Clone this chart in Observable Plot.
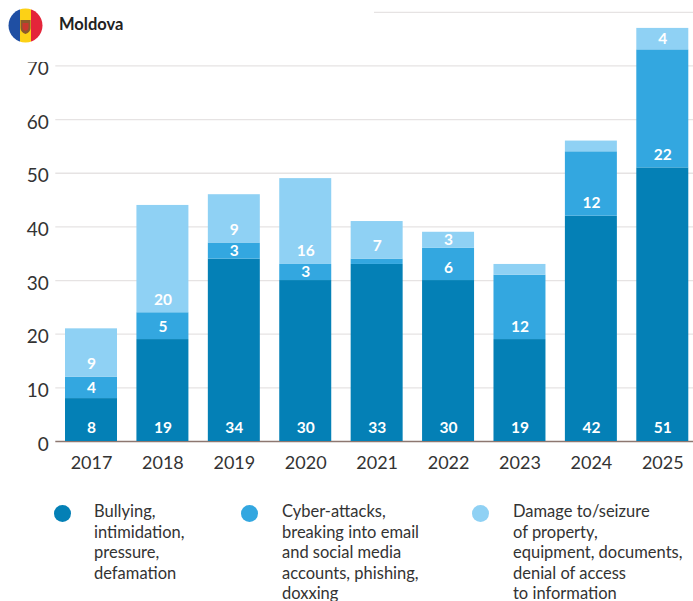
<!DOCTYPE html>
<html><head><meta charset="utf-8">
<script src="https://cdn.jsdelivr.net/npm/d3@7"></script>
<script src="https://cdn.jsdelivr.net/npm/@observablehq/plot@0.6"></script>
<style>
html,body{margin:0;padding:0;background:#fff;overflow:hidden}
#wrap{position:relative;width:693px;height:601px;font-family:Lato,sans-serif;color:#2b2b2b}
#chart{position:absolute;left:0;top:0}
#chart svg{overflow:visible}
#head{position:absolute;left:0;top:0;width:374px;height:62px;background:#fff}
#flag{position:absolute;left:8px;top:8px}
#title{position:absolute;left:59px;top:14px;font-size:16.5px;font-weight:700;line-height:20px;color:#222}
.dot{position:absolute;width:17px;height:17px;border-radius:50%;top:505px}
.leg{position:absolute;top:501px;font-size:16.5px;line-height:20.6px;white-space:pre;color:#333}
</style></head><body>
<div id="wrap"><div id="chart"></div><div id="head"></div>
<svg id="flag" width="35" height="35" viewBox="0 0 35 35"><defs><clipPath id="c"><circle cx="17.5" cy="17.5" r="17"/></clipPath></defs>
<g clip-path="url(#c)"><rect width="12" height="35" fill="#1f4fa3"/><rect x="12" width="11" height="35" fill="#fcd116"/><rect x="23" width="12" height="35" fill="#e4253a"/>
<path d="M12.5 12h10v8q0 4-5 6q-5-2-5-6z" fill="#8a5a2b"/><path d="M14.5 15h6v5q0 2-3 3q-3-1-3-3z" fill="#c8382e"/></g></svg>
<div id="title"></div><div id="legend"></div></div>
<script>
const years = ["2017","2018","2019","2020","2021","2022","2023","2024","2025"];
const bullying = [8,19,34,30,33,30,19,42,51];
const cyber = [4,5,3,3,1,6,12,12,22];
const damage = [9,20,9,16,7,3,2,2,4];
const seriesNames = ["Bullying, intimidation, pressure, defamation","Cyber-attacks, breaking into email and social media accounts, phishing, doxxing","Damage to/seizure of property, equipment, documents, denial of access to information"];
const legendLines = [
 "Bullying,\nintimidation,\npressure,\ndefamation",
 "Cyber-attacks,\nbreaking into email\nand social media\naccounts, phishing,\ndoxxing",
 "Damage to/seizure\nof property,\nequipment, documents,\ndenial of access\nto information"];
const colors = ["#0480b6","#33a7e0","#8fd1f4"];
const gridValues = [10,20,30,40,50,60,70,80];
const yTicks = [0,10,20,30,40,50,60,70];
const unlabelled = new Set(["2021|1","2023|2","2024|2"]);

document.getElementById("title").textContent = "Moldova";
const rows = [];
[bullying,cyber,damage].forEach((vals,s)=>vals.forEach((v,i)=>rows.push({year:years[i],series:seriesNames[s],order:s,value:v})));
const shown = d => !unlabelled.has(d.year+"|"+d.order);
const textOpts = {fill:"#fff",fontSize:15.5,fontWeight:700};
const stackOpts = {x:"year",y:"value",z:"order",order:"order"};

const plot = Plot.plot({
  width:693,height:480,marginLeft:55.3,marginRight:-5,marginTop:0,marginBottom:39,
  style:{fontFamily:"Lato, sans-serif",background:"transparent",overflow:"visible"},
  x:{domain:years,paddingInner:0.272,paddingOuter:0.136,round:false,label:null,tickSize:0},
  y:{domain:[0,82.2],label:null},
  color:{domain:seriesNames,range:colors},
  marks:[
    Plot.ruleY(gridValues,{stroke:"#e6e3e3",strokeWidth:1.3}),
    Plot.ruleY([0],{stroke:"#8d7770",strokeWidth:1.5}),
    Plot.barY(rows,Plot.stackY({...stackOpts,fill:"series"})),
    Plot.text(rows,Plot.stackY1({...stackOpts,text:d=>shown(d)&&d.value>4?String(d.value):null,dy:-13,...textOpts})),
    Plot.text(rows,Plot.stackY({...stackOpts,text:d=>shown(d)&&d.value<=4?String(d.value):null,...textOpts})),
    Plot.axisX({tickSize:0,tickPadding:15,fontSize:18,fill:"#333",label:null}),
    Plot.axisY({ticks:yTicks,tickSize:0,tickPadding:7,fontSize:19,fill:"#333",dy:3,label:null})
  ]
});
document.getElementById("chart").append(plot);

const xs=[[54,94],[241,282],[472,513]];
const leg=document.getElementById("legend");
legendLines.forEach((t,i)=>{
  const d=document.createElement("div");d.className="dot";d.style.left=xs[i][0]+"px";d.style.background=colors[i];leg.append(d);
  const l=document.createElement("div");l.className="leg";l.style.left=xs[i][1]+"px";l.textContent=t;leg.append(l);
});
</script></body></html>
